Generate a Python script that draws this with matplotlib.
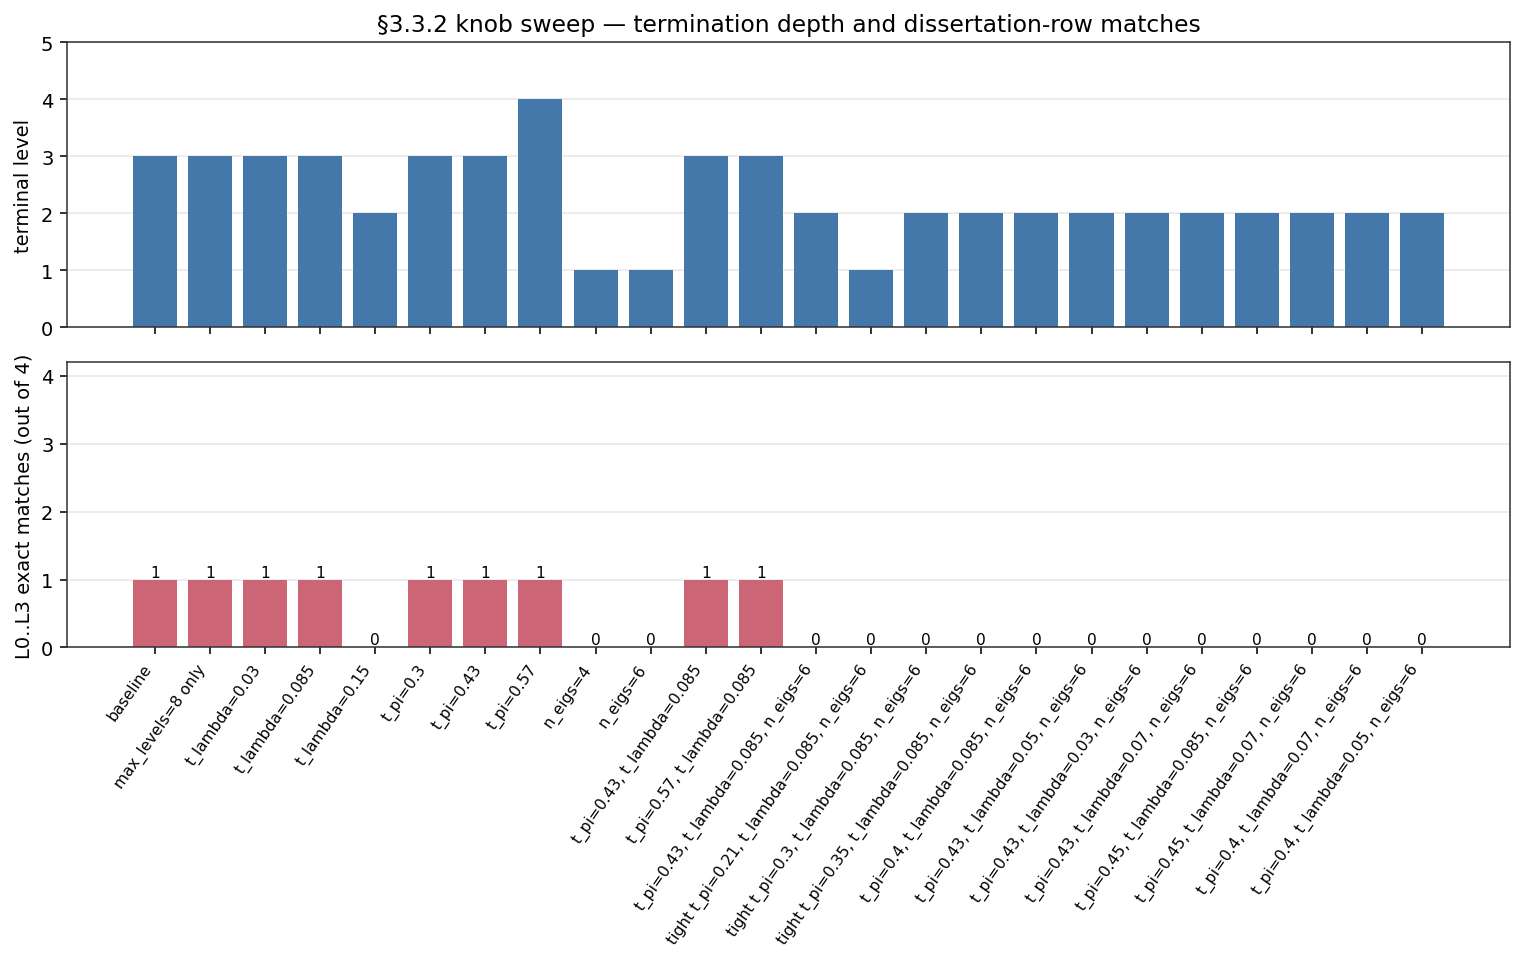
import matplotlib
matplotlib.use("Agg")
import matplotlib.pyplot as plt
import numpy as np

# Sweep configurations
labels = [
    "baseline",
    "max_levels=8 only",
    "t_lambda=0.03",
    "t_lambda=0.085",
    "t_lambda=0.15",
    "t_pi=0.3",
    "t_pi=0.43",
    "t_pi=0.57",
    "n_eigs=4",
    "n_eigs=6",
    "t_pi=0.43, t_lambda=0.085",
    "t_pi=0.57, t_lambda=0.085",
    "t_pi=0.43, t_lambda=0.085, n_eigs=6",
    "tight t_pi=0.21, t_lambda=0.085, n_eigs=6",
    "tight t_pi=0.3, t_lambda=0.085, n_eigs=6",
    "tight t_pi=0.35, t_lambda=0.085, n_eigs=6",
    "t_pi=0.4, t_lambda=0.085, n_eigs=6",
    "t_pi=0.43, t_lambda=0.05, n_eigs=6",
    "t_pi=0.43, t_lambda=0.03, n_eigs=6",
    "t_pi=0.43, t_lambda=0.07, n_eigs=6",
    "t_pi=0.45, t_lambda=0.085, n_eigs=6",
    "t_pi=0.45, t_lambda=0.07, n_eigs=6",
    "t_pi=0.4, t_lambda=0.07, n_eigs=6",
    "t_pi=0.4, t_lambda=0.05, n_eigs=6",
]

# Results
terminal_level = [3, 3, 3, 3, 2, 3, 3, 4, 1, 1, 3, 3, 2, 1, 2, 2, 2, 2, 2, 2, 2, 2, 2, 2]
exact_matches = [1, 1, 1, 1, 0, 1, 1, 1, 0, 0, 1, 1, 0, 0, 0, 0, 0, 0, 0, 0, 0, 0, 0, 0]

x = np.arange(len(labels))

fig, (ax1, ax2) = plt.subplots(2, 1, figsize=(1525 / 140, 962 / 140), dpi=140, sharex=True)
fig.subplots_adjust(left=0.044, right=0.990, top=0.955, bottom=0.326, hspace=0.123)

# Terminal level
ax1.bar(x, terminal_level, width=0.8, color="#4477AA")
ax1.set_ylim(0, 5)
ax1.set_ylabel("terminal level")
ax1.set_title("§3.3.2 knob sweep — termination depth and dissertation-row matches")
ax1.grid(axis="y", alpha=0.3)
ax1.set_axisbelow(True)

# Exact matches
bars = ax2.bar(x, exact_matches, width=0.8, color="#CC6677")
ax2.bar_label(bars, fontsize=8)
ax2.set_ylim(0, 4.2)
ax2.set_ylabel("L0..L3 exact matches (out of 4)")
ax2.grid(axis="y", alpha=0.3)
ax2.set_axisbelow(True)
ax2.set_xticks(x)
ax2.set_xticklabels(labels, rotation=55, ha="right", fontsize=8)

for ax in (ax1, ax2):
    for s in ax.spines.values():
        s.set_color("#333333")

plt.savefig("out.png")
